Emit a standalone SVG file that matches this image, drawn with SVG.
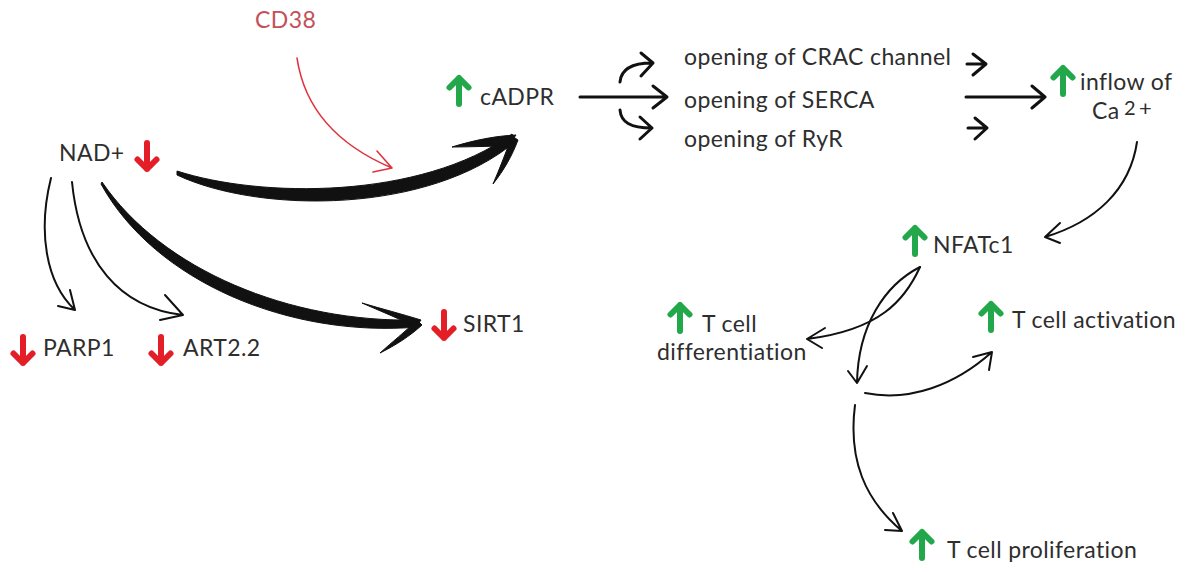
<svg xmlns="http://www.w3.org/2000/svg" xmlns:xlink="http://www.w3.org/1999/xlink" width="1200" height="573" viewBox="0 0 1200 573">
<style>
.t{font-family:Lato,"Open Sans","Liberation Sans",sans-serif;font-size:23px;letter-spacing:0.4px;fill:#2e2e2e}
.cd{fill:#c4505a}
.ln{fill:none;stroke:#111;stroke-width:2;stroke-linecap:round;stroke-linejoin:round}
.md{fill:none;stroke:#111;stroke-width:3;stroke-linecap:round;stroke-linejoin:round}
.bk{fill:#111;stroke:#111;stroke-width:1;stroke-linejoin:round}
.rd{fill:none;stroke:#e0323c;stroke-width:1.6;stroke-linecap:round;stroke-linejoin:round}
.ga{fill:none;stroke:#22a84a;stroke-width:6;stroke-linecap:round;stroke-linejoin:round}
.ra{fill:none;stroke:#e31e26;stroke-width:6;stroke-linecap:round;stroke-linejoin:round}
</style>
<defs>
<path id="up" d="M0,13 L0,-13 M-9.5,-3.5 L0,-13 L9.5,-3.5"/>
<path id="down" d="M0,-13 L0,13 M-9.5,3.5 L0,13 L9.5,3.5"/>
</defs>
<rect width="1200" height="573" fill="#fff"/>
<g id="connectors">
<!-- CD38 red arrow -->
<path class="rd" d="M297,58 C305,112 340,146 392,168 M377,151 L392,168 L373,172"/>
<!-- NAD+ to cADPR thick brush -->
<path class="bk" d="M177,171 C260,198 420,200 512,134 L516,141 C430,214 260,214 177,175 Z"/>
<path class="bk" d="M452,147 C475,140 495,136 516,135 L508,146 C490,146 470,147 452,147 Z"/>
<path class="bk" d="M493,184 C500,168 506,152 512,136 L518,140 C512,156 504,170 493,184 Z"/>
<!-- NAD+ to SIRT1 thick brush -->
<path class="bk" d="M102,182 C162,270 290,323 418,320 L418,327 C290,338 155,282 101,184 Z"/>
<path class="bk" d="M362,303 C382,309 402,314 421,320 L416,327 C398,318 380,311 362,303 Z"/>
<path class="bk" d="M380,353 C392,342 405,332 417,320 L422,325 C410,336 396,345 380,353 Z"/>
<!-- NAD+ to PARP1 -->
<path class="ln" d="M51,178 C38,230 45,282 75,310 M70,290 L75,310 L58,306"/>
<!-- NAD+ to ART2.2 -->
<path class="ln" d="M72,182 C80,262 120,308 183,315 M165,295 L183,315 L160,320"/>
<!-- cADPR splits -->
<path class="md" d="M580,97 L667,97 M653,86 L667,97 L653,108"/>
<path class="md" d="M620,82 C621,70 630,63 652,63 M641,53 L653,63 L641,76"/>
<path class="md" d="M620,110 C621,122 630,128 652,128 M640,117 L652,128 L640,139"/>
<!-- to inflow -->
<path class="md" d="M967,64 L985,64 M973,54 L986,64 L973,75"/>
<path class="md" d="M968,128 L986,128 M975,118 L987,128 L975,139"/>
<path class="md" d="M966,97 L1045,97 M1032,86 L1045,97 L1032,108"/>
<!-- Ca to NFATc1 -->
<path class="ln" d="M1137,142 C1130,190 1095,222 1045,237 M1060,223 L1045,237 L1060,243"/>
<!-- NFATc1 branches -->
<path class="ln" d="M920,267 C885,285 858,325 857,383 M848,371 L857,383 L867,366"/>
<path class="ln" d="M920,267 C905,300 880,330 807,339 M825,328 L807,339 L822,348"/>
<path class="ln" d="M865,393 C910,402 955,385 992,352 M973,357 L992,352 L989,370"/>
<path class="ln" d="M855,405 C848,460 865,500 902,531 M893,513 L902,531 L885,530"/>
</g>
<g id="node-cd38"><text class="t cd" x="255" y="28" font-size="21">CD38</text></g>
<g id="node-nad"><text class="t" x="59" y="161">NAD+</text><use xlink:href="#down" class="ra" x="147" y="156"/></g>
<g id="node-cadpr"><use xlink:href="#up" class="ga" x="459" y="91"/><text class="t" x="480" y="105" font-size="22">cADPR</text></g>
<g id="node-parp1"><use xlink:href="#down" class="ra" x="23" y="350"/><text class="t" x="43" y="356" font-size="20" letter-spacing="0">PARP1</text></g>
<g id="node-art"><use xlink:href="#down" class="ra" x="161" y="350"/><text class="t" x="183" y="356" font-size="20" letter-spacing="0">ART2.2</text></g>
<g id="node-sirt1"><use xlink:href="#down" class="ra" x="444" y="325"/><text class="t" x="463" y="332" font-size="21">SIRT1</text></g>
<g id="node-crac"><text class="t" x="684" y="65">opening of CRAC channel</text></g>
<g id="node-serca"><text class="t" x="684" y="108">opening of SERCA</text></g>
<g id="node-ryr"><text class="t" x="684" y="147">opening of RyR</text></g>
<g id="node-ca"><use xlink:href="#up" class="ga" x="1063" y="81"/><text class="t" x="1080" y="90">inflow of</text><text class="t" x="1092" y="119" font-size="21">Ca<tspan x="1124" y="115" font-size="20">2</tspan><tspan x="1139" y="116" font-size="22">+</tspan></text></g>
<g id="node-nfatc1"><use xlink:href="#up" class="ga" x="915" y="241"/><text class="t" x="933" y="253">NFATc1</text></g>
<g id="node-diff"><use xlink:href="#up" class="ga" x="680" y="318"/><text class="t" x="702" y="332">T cell</text><text class="t" x="657" y="360">differentiation</text></g>
<g id="node-act"><use xlink:href="#up" class="ga" x="991" y="317"/><text class="t" x="1012" y="328">T cell activation</text></g>
<g id="node-prol"><use xlink:href="#up" class="ga" x="922" y="545"/><text class="t" x="947" y="558">T cell proliferation</text></g>
</svg>
